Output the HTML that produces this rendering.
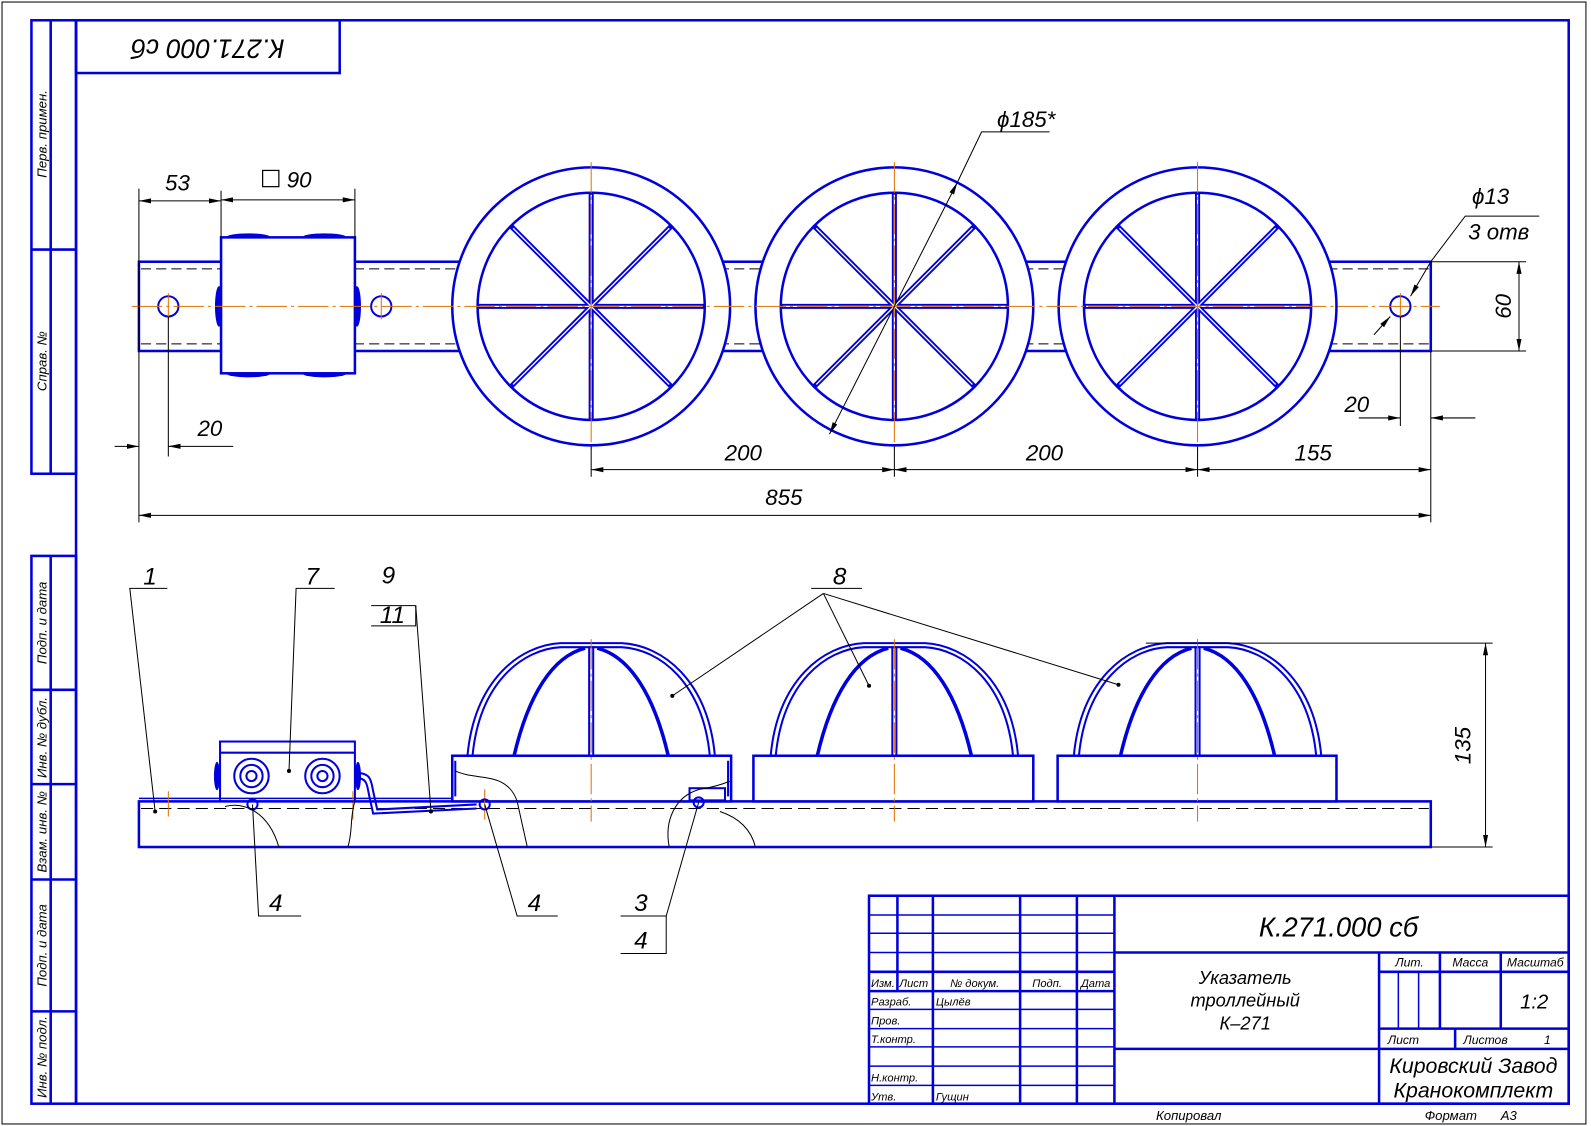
<!DOCTYPE html>
<html><head><meta charset="utf-8"><style>
html,body{margin:0;padding:0;background:#fff;}
svg{display:block;}
text{font-family:"Liberation Sans",sans-serif;font-style:italic;fill:#000;}
</style></head><body>
<svg width="1591" height="1126" viewBox="0 0 1569 1110" preserveAspectRatio="none" xmlns="http://www.w3.org/2000/svg">
<defs>
<marker id="a" viewBox="0 0 12 6" refX="12" refY="3" markerWidth="12" markerHeight="6" markerUnits="userSpaceOnUse" orient="auto-start-reverse"><path d="M0,0.5 L12,3 L0,5.5z" fill="#000"/></marker>
<g id="wheel">
<circle r="137" fill="#fff" stroke="#0000dd" stroke-width="2.5"/>
<circle r="112" fill="none" stroke="#0000dd" stroke-width="2.5"/>
<g stroke="#0000dd" stroke-width="5">
<line x1="-112" y1="0" x2="112" y2="0"/><line x1="0" y1="-112" x2="0" y2="112"/>
<line x1="-79" y1="-79" x2="79" y2="79"/><line x1="-79" y1="79" x2="79" y2="-79"/>
</g>
<g stroke="#fff" stroke-width="1.3">
<line x1="-110" y1="0" x2="110" y2="0"/><line x1="0" y1="-110" x2="0" y2="110"/>
<line x1="-77" y1="-77" x2="77" y2="77"/><line x1="-77" y1="77" x2="77" y2="-77"/>
</g>
</g>
<g id="dome" fill="none" stroke="#0000dd" stroke-width="2">
<path d="M-122,0 C-115,-75 -70,-109 -30,-111 L30,-111 C70,-109 115,-75 122,0"/>
<path d="M-117,0 C-110,-72 -68,-105 -30,-107 L30,-107 C68,-105 110,-72 117,0"/>
<path d="M-76,0 C-62,-60 -38,-98 -6,-106" stroke-width="3.5"/>
<path d="M76,0 C62,-60 38,-98 6,-106" stroke-width="3.5"/>
<line x1="-2" y1="-108" x2="-2" y2="0"/><line x1="2" y1="-108" x2="2" y2="0"/>
</g>
</defs>

<rect x="2" y="2" width="1562" height="1106" fill="none" stroke="#000" stroke-width="1"/>
<rect x="75" y="20" width="1472" height="1068" fill="none" stroke="#0000dd" stroke-width="2.5"/>
<rect x="75" y="20" width="260" height="52" fill="none" stroke="#0000dd" stroke-width="2.5"/>
<text transform="translate(205,46) rotate(180)" font-size="26" text-anchor="middle" dominant-baseline="middle">К.271.000 сб</text>

<g fill="none" stroke="#0000dd" stroke-width="2.5">
<rect x="31" y="20" width="44" height="447"/><line x1="50" y1="20" x2="50" y2="467"/><line x1="31" y1="246" x2="75" y2="246"/>
<rect x="31" y="548" width="44" height="540"/><line x1="50" y1="548" x2="50" y2="1088"/>
<line x1="31" y1="680" x2="75" y2="680"/><line x1="31" y1="773" x2="75" y2="773"/><line x1="31" y1="867" x2="75" y2="867"/><line x1="31" y1="997" x2="75" y2="997"/>
</g>
<g font-size="13" text-anchor="middle">
<text transform="translate(46,132) rotate(-90)">Перв. примен.</text>
<text transform="translate(46,356) rotate(-90)">Справ. №</text>
<text transform="translate(46,614) rotate(-90)">Подп. и дата</text>
<text transform="translate(46,727) rotate(-90)">Инв. № дубл.</text>
<text transform="translate(46,820) rotate(-90)">Взам. инв. №</text>
<text transform="translate(46,932) rotate(-90)">Подп. и дата</text>
<text transform="translate(46,1042) rotate(-90)">Инв. № подл.</text>
</g>

<rect x="137" y="258" width="1274" height="88" fill="none" stroke="#0000dd" stroke-width="2.5"/>
<g stroke="#000" stroke-width="1" stroke-dasharray="10,5"><line x1="139" y1="265" x2="1409" y2="265"/><line x1="139" y1="339" x2="1409" y2="339"/></g>
<use href="#wheel" x="583" y="302"/>
<use href="#wheel" x="882" y="302"/>
<use href="#wheel" x="1181" y="302"/>
<g fill="#0000dd">
<ellipse cx="245" cy="234" rx="22" ry="4"/><ellipse cx="320" cy="234" rx="22" ry="4"/>
<ellipse cx="245" cy="368" rx="22" ry="4"/><ellipse cx="320" cy="368" rx="22" ry="4"/>
<ellipse cx="216" cy="302" rx="4" ry="20"/><ellipse cx="352" cy="302" rx="4" ry="20"/>
</g>
<rect x="218" y="234" width="132" height="134" fill="#fff" stroke="#0000dd" stroke-width="2.5"/>
<g fill="none" stroke="#0000dd" stroke-width="2"><circle cx="166" cy="302" r="10"/><circle cx="376" cy="302" r="10"/><circle cx="1381" cy="302" r="10"/></g>
<g stroke="#e07000" stroke-width="1" stroke-dasharray="30,4,3,4">
<line x1="130" y1="302" x2="1420" y2="302"/>
<line x1="583" y1="160" x2="583" y2="444"/><line x1="882" y1="160" x2="882" y2="444"/><line x1="1181" y1="160" x2="1181" y2="444"/>
<line x1="166" y1="289" x2="166" y2="315"/><line x1="376" y1="289" x2="376" y2="315"/><line x1="1381" y1="289" x2="1381" y2="315"/>
</g>
<g stroke="#000" stroke-width="1" fill="none">
<line x1="137" y1="186" x2="137" y2="515"/><line x1="218" y1="188" x2="218" y2="234"/><line x1="350" y1="186" x2="350" y2="234"/>
<line x1="137" y1="198" x2="218" y2="198" marker-start="url(#a)" marker-end="url(#a)"/>
<line x1="218" y1="197" x2="350" y2="197" marker-start="url(#a)" marker-end="url(#a)"/>
<line x1="166" y1="312" x2="166" y2="450"/>
<line x1="113" y1="440" x2="137" y2="440" marker-end="url(#a)"/><line x1="230" y1="440" x2="166" y2="440" marker-end="url(#a)"/>
<line x1="583" y1="440" x2="583" y2="470"/><line x1="882" y1="440" x2="882" y2="470"/><line x1="1181" y1="440" x2="1181" y2="470"/>
<line x1="1411" y1="346" x2="1411" y2="515"/><line x1="1381" y1="312" x2="1381" y2="420"/>
<line x1="583" y1="463" x2="882" y2="463" marker-start="url(#a)" marker-end="url(#a)"/>
<line x1="882" y1="463" x2="1181" y2="463" marker-start="url(#a)" marker-end="url(#a)"/>
<line x1="1181" y1="463" x2="1411" y2="463" marker-start="url(#a)" marker-end="url(#a)"/>
<line x1="137" y1="508" x2="1411" y2="508" marker-start="url(#a)" marker-end="url(#a)"/>
<line x1="1340" y1="412" x2="1381" y2="412" marker-end="url(#a)"/><line x1="1455" y1="412" x2="1411" y2="412" marker-end="url(#a)"/>
<line x1="1411" y1="258" x2="1505" y2="258"/><line x1="1411" y1="346" x2="1505" y2="346"/>
<line x1="1498" y1="258" x2="1498" y2="346" marker-start="url(#a)" marker-end="url(#a)"/>
<line x1="944" y1="180" x2="818" y2="428" marker-start="url(#a)" marker-end="url(#a)"/>
<polyline points="944,180 968,130 1035,130"/>
<polyline points="1518,213 1445,213 1411,258"/>
<line x1="1411" y1="258" x2="1391" y2="292" marker-end="url(#a)"/>
<line x1="1355" y1="330" x2="1371" y2="312" marker-end="url(#a)"/>
</g>
<g font-size="22" text-anchor="middle">
<text x="175" y="188">53</text>
<text x="295" y="185">90</text>
<text x="207" y="430">20</text>
<text x="733" y="454">200</text>
<text x="1030" y="454">200</text>
<text x="1295" y="454">155</text>
<text x="773" y="498">855</text>
<text x="1338" y="406">20</text>
<text x="1012" y="125">ϕ185*</text>
<text x="1470" y="201">ϕ13</text>
<text x="1478" y="236">3 отв</text>
<text transform="translate(1490,302) rotate(-90)">60</text>
</g>
<rect x="259" y="168" width="16" height="16" fill="none" stroke="#000" stroke-width="1.2"/>

<rect x="137" y="790" width="1274" height="45" fill="none" stroke="#0000dd" stroke-width="2.5"/>
<line x1="139" y1="797" x2="1409" y2="797" stroke="#000" stroke-width="1" stroke-dasharray="12,6"/>
<line x1="137" y1="787" x2="520" y2="787" stroke="#0000dd" stroke-width="1.5"/>
<g fill="#fff" stroke="#0000dd" stroke-width="2.5">
<rect x="446" y="745" width="275" height="45"/>
<rect x="743" y="745" width="276" height="45"/>
<rect x="1043" y="745" width="275" height="45"/>
</g>
<use href="#dome" x="583" y="745"/>
<use href="#dome" x="882" y="745"/>
<use href="#dome" x="1181" y="745"/>
<g stroke="#e07000" stroke-width="1" stroke-dasharray="30,4,3,4">
<line x1="583" y1="630" x2="583" y2="810"/><line x1="882" y1="630" x2="882" y2="810"/><line x1="1181" y1="630" x2="1181" y2="810"/>
<line x1="166" y1="780" x2="166" y2="805"/><line x1="478" y1="778" x2="478" y2="808"/><line x1="348" y1="780" x2="348" y2="808"/>
</g>
<g fill="none" stroke="#0000dd" stroke-width="2">
<rect x="217" y="731" width="133" height="59"/><line x1="217" y1="742" x2="350" y2="742"/>
<circle cx="248" cy="765" r="17"/><circle cx="248" cy="765" r="11"/><circle cx="248" cy="765" r="5"/>
<circle cx="318" cy="765" r="17"/><circle cx="318" cy="765" r="11"/><circle cx="318" cy="765" r="5"/>
<path d="M352,762 C366,762 366,770 368,780 L372,798 L470,793"/>
<path d="M352,767 C362,767 362,774 364,784 L368,802 L470,797"/>
<circle cx="249" cy="793" r="5"/><circle cx="478" cy="793" r="5"/><circle cx="689" cy="791" r="5"/>
<rect x="680" y="777" width="35" height="12"/>
<path d="M449,750 L449,785 M718,750 L718,785"/>
</g>
<ellipse cx="214" cy="765" rx="3" ry="14" fill="#0000dd"/><ellipse cx="353" cy="765" rx="3" ry="14" fill="#0000dd"/>
<g fill="none" stroke="#000" stroke-width="1">
<path d="M222,795 C240,790 265,800 275,835"/>
<path d="M350,790 C345,805 348,820 343,835"/>
<path d="M449,760 C470,770 500,760 510,790 L520,835"/>
<path d="M660,835 C655,810 665,785 690,778 C705,776 715,772 720,770"/>
<path d="M710,800 C725,805 740,815 745,835"/>
</g>
<g stroke="#000" stroke-width="1" fill="none">
<polyline points="165,580 128,580 153,800"/>
<polyline points="330,580 292,580 285,760"/>
<polyline points="366,597 410,597 410,617 366,617"/>
<line x1="410" y1="597" x2="425" y2="800"/>
<line x1="800" y1="580" x2="850" y2="580"/>
<line x1="812" y1="585" x2="663" y2="686"/><line x1="812" y1="585" x2="857" y2="676"/><line x1="812" y1="585" x2="1103" y2="675"/>
<polyline points="297,903 255,903 249,793"/>
<polyline points="550,903 510,903 478,793"/>
<polyline points="612,903 657,903 657,940 612,940"/>
<line x1="657" y1="903" x2="689" y2="791"/>
<line x1="1130" y1="634" x2="1472" y2="634"/><line x1="1411" y1="835" x2="1472" y2="835"/>
<line x1="1465" y1="634" x2="1465" y2="835" marker-start="url(#a)" marker-end="url(#a)"/>
</g>
<g fill="#000"><circle cx="153" cy="800" r="2"/><circle cx="285" cy="760" r="2"/><circle cx="425" cy="800" r="2"/><circle cx="663" cy="686" r="2"/><circle cx="857" cy="676" r="2"/><circle cx="1103" cy="675" r="2"/></g>
<g font-size="24" text-anchor="middle">
<text x="148" y="576">1</text><text x="308" y="576">7</text><text x="383" y="575">9</text><text x="387" y="614">11</text>
<text x="828" y="576">8</text><text x="272" y="898">4</text><text x="527" y="898">4</text>
<text x="632" y="898">3</text><text x="632" y="935">4</text>
</g>
<text transform="translate(1450,735) rotate(-90)" font-size="22" text-anchor="middle">135</text>

<g stroke="#0000dd" fill="none" stroke-width="1.5">
<line x1="857" y1="902" x2="1099" y2="902"/><line x1="857" y1="920" x2="1099" y2="920"/><line x1="857" y1="939" x2="1099" y2="939"/>
<line x1="857" y1="995" x2="1099" y2="995"/><line x1="857" y1="1014" x2="1099" y2="1014"/><line x1="857" y1="1032" x2="1099" y2="1032"/>
<line x1="857" y1="1051" x2="1099" y2="1051"/><line x1="857" y1="1070" x2="1099" y2="1070"/>
<line x1="1379" y1="958" x2="1379" y2="1014"/><line x1="1399" y1="958" x2="1399" y2="1014"/>
</g>
<g stroke="#0000dd" fill="none" stroke-width="2.5">
<rect x="857" y="883" width="690" height="205"/>
<line x1="857" y1="958" x2="1099" y2="958"/><line x1="857" y1="977" x2="1099" y2="977"/>
<line x1="885" y1="883" x2="885" y2="977"/><line x1="920" y1="883" x2="920" y2="1088"/>
<line x1="1006" y1="883" x2="1006" y2="1088"/><line x1="1062" y1="883" x2="1062" y2="1088"/><line x1="1099" y1="883" x2="1099" y2="1088"/>
<line x1="1099" y1="939" x2="1547" y2="939"/><line x1="1099" y1="1034" x2="1547" y2="1034"/>
<line x1="1360" y1="939" x2="1360" y2="1088"/>
<line x1="1360" y1="958" x2="1547" y2="958"/><line x1="1360" y1="1014" x2="1547" y2="1014"/>
<line x1="1420" y1="939" x2="1420" y2="1014"/><line x1="1480" y1="939" x2="1480" y2="1014"/>
<line x1="1435" y1="1014" x2="1435" y2="1034"/>
</g>
<text x="1320" y="923" font-size="27" text-anchor="middle">К.271.000 сб</text>
<g font-size="18" text-anchor="middle">
<text x="1228" y="970">Указатель</text><text x="1228" y="992">троллейный</text><text x="1228" y="1015">К–271</text>
</g>
<g font-size="12" text-anchor="middle">
<text x="1390" y="953">Лит.</text><text x="1450" y="953">Масса</text><text x="1514" y="953">Масштаб</text>
<text x="1384" y="1029">Лист</text><text x="1465" y="1029">Листов</text><text x="1526" y="1029">1</text>
</g>
<text x="1513" y="994" font-size="20" text-anchor="middle">1:2</text>
<g font-size="21" text-anchor="middle"><text x="1453" y="1058">Кировский Завод</text><text x="1453" y="1082">Кранокомплект</text></g>
<g font-size="11">
<text x="859" y="973">Изм.</text><text x="887" y="973">Лист</text><text x="937" y="973">№ докум.</text><text x="1018" y="973">Подп.</text><text x="1066" y="973">Дата</text>
<text x="859" y="991">Разраб.</text><text x="923" y="991">Цылёв</text>
<text x="859" y="1010">Пров.</text><text x="859" y="1028">Т.контр.</text>
<text x="859" y="1066">Н.контр.</text><text x="859" y="1085">Утв.</text><text x="923" y="1085">Гущин</text>
</g>
<g font-size="13"><text x="1140" y="1104">Копировал</text><text x="1405" y="1104">Формат</text><text x="1480" y="1104">А3</text></g>
</svg>
</body></html>
